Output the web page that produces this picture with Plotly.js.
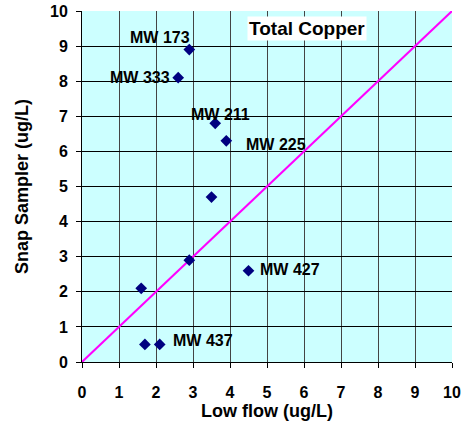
<!DOCTYPE html>
<html>
<head>
<meta charset="utf-8">
<script src="https://cdn.plot.ly/plotly-3.0.1.min.js"></script>
<style>html,body{margin:0;padding:0;background:#fff;}#chart{width:464px;height:423px;}</style>
</head>
<body>
<div id="chart"></div>
<script>
// Data
var lowFlow     = [2.9, 2.6, 3.6, 3.9, 3.5, 2.9, 1.6, 4.5, 1.7, 2.1];
var snapSampler = [8.9, 8.1, 6.8, 6.3, 4.7, 2.9, 2.1, 2.6, 0.5, 0.5];
var wellLabels  = ["MW 173", "MW 333", "MW 211", "MW 225", "", "", "", "MW 427", "", "MW 437"];
var lineX = [0, 10];
var lineY = [0, 10];
var tickVals = [0, 1, 2, 3, 4, 5, 6, 7, 8, 9, 10];
var chartTitle = "Total Copper";
var xTitle = "Low flow (ug/L)";
var yTitle = "Snap Sampler (ug/L)";

var FONT = "Arial, 'Liberation Sans', sans-serif";

// label placement styles (layout only)
var labelStyle = {
  "MW 173": {xanchor: "right", xshift: 3, yshift: 12},
  "MW 333": {xanchor: "right", xshift: -6, yshift: 0},
  "MW 211": {xanchor: "center", xshift: 5, yshift: 9},
  "MW 225": {xanchor: "left", xshift: 18, yshift: -4},
  "MW 427": {xanchor: "left", xshift: 9, yshift: 1},
  "MW 437": {xanchor: "left", xshift: 11, yshift: 4}
};

var annotations = [];
for (var i = 0; i < wellLabels.length; i++) {
  if (!wellLabels[i]) continue;
  var s = labelStyle[wellLabels[i]];
  annotations.push({
    x: lowFlow[i], y: snapSampler[i], xref: "x", yref: "y",
    text: "<b>" + wellLabels[i] + "</b>", showarrow: false,
    xanchor: s.xanchor, yanchor: "middle", xshift: s.xshift, yshift: s.yshift,
    font: {family: FONT, size: 16, color: "#000"}
  });
}
annotations.push({
  x: 0.607, y: 0.949, xref: "paper", yref: "paper",
  text: "<b>" + chartTitle + "</b>", showarrow: false,
  xanchor: "center", yanchor: "middle",
  bgcolor: "#ffffff", borderpad: 1,
  font: {family: FONT, size: 19, color: "#000"}
});

var traces = [
  {
    x: lineX, y: lineY, mode: "lines", type: "scatter",
    line: {color: "#FF00FF", width: 2}, hoverinfo: "skip", showlegend: false
  },
  {
    x: lowFlow, y: snapSampler, mode: "markers", type: "scatter",
    marker: {symbol: "diamond", size: 9, color: "#000080"}, showlegend: false
  }
];

var layout = {
  width: 464, height: 423,
  margin: {l: 82, r: 12, t: 11, b: 61},
  paper_bgcolor: "#ffffff",
  plot_bgcolor: "#CCFFFF",
  font: {family: FONT, color: "#000"},
  showlegend: false,
  xaxis: {
    range: [0, 10], tickvals: tickVals, ticktext: tickVals.map(function(v){return "<b>"+v+"</b>";}),
    ticks: "outside", ticklen: 5, tickcolor: "#000", ticklabelstandoff: 11,
    showgrid: true, gridcolor: "#444", gridwidth: 1,
    showline: true, linecolor: "#000", linewidth: 1,
    zeroline: false, tickfont: {family: FONT, size: 16, color: "#000"},
    title: {text: "<b>" + xTitle + "</b>", font: {family: FONT, size: 18, color: "#000"}, standoff: 4},
    fixedrange: true
  },
  yaxis: {
    range: [0, 10], tickvals: tickVals, ticktext: tickVals.map(function(v){return "<b>"+v+"</b>";}),
    ticks: "outside", ticklen: 5, tickcolor: "#000", ticklabelstandoff: 5,
    showgrid: true, gridcolor: "#000", gridwidth: 1,
    showline: true, linecolor: "#000", linewidth: 1,
    zeroline: false, tickfont: {family: FONT, size: 16, color: "#000"},
    title: {text: "<b>" + yTitle + "</b>", font: {family: FONT, size: 18, color: "#000"}, standoff: 16},
    fixedrange: true
  },
  annotations: annotations
};

Plotly.newPlot("chart", traces, layout, {displayModeBar: false, staticPlot: true});
</script>
</body>
</html>
